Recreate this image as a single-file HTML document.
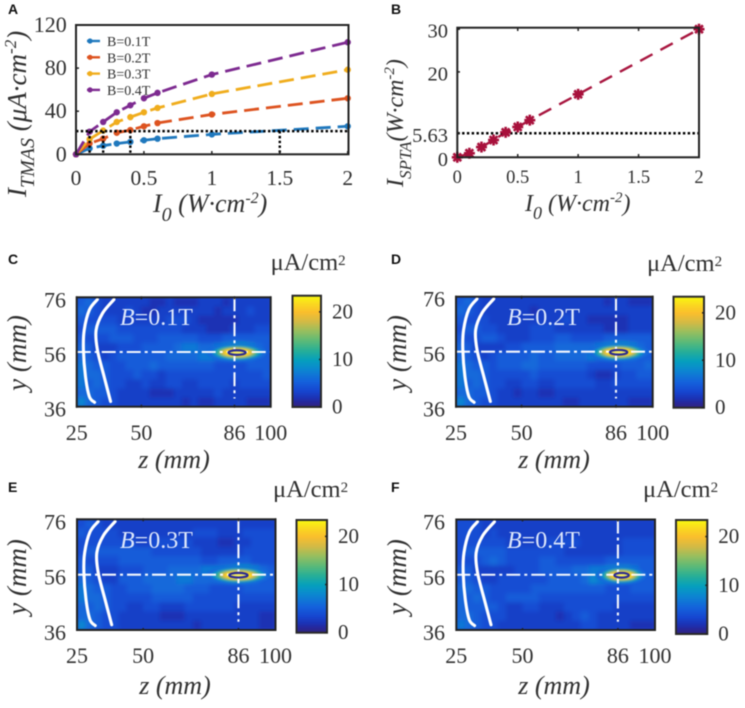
<!DOCTYPE html>
<html lang="en">
<head>
<meta charset="utf-8">
<title>TMAS current density figure</title>
<style>
html,body{margin:0;padding:0;background:#fff;width:745px;height:708px;overflow:hidden}
svg{display:block;filter:blur(0.5px)}
text{font-family:"Liberation Serif",serif;fill:#303030}
.it{font-style:italic}
.letter{font-family:"Liberation Sans",sans-serif;font-weight:700;font-size:14px;fill:#111}
</style>
</head>
<body>
<svg id="fig" xmlns="http://www.w3.org/2000/svg" width="745" height="708" viewBox="0 0 745 708">
<defs>
<filter id="soft" x="-5%" y="-5%" width="110%" height="110%"><feGaussianBlur stdDeviation="2.2"/></filter>
<filter id="softHot" x="-30%" y="-60%" width="160%" height="220%"><feGaussianBlur stdDeviation="1"/></filter>
</defs>

<text class="letter" x="8" y="14">A</text>
<text class="letter" x="391" y="14">B</text>
<text class="letter" x="8" y="264">C</text>
<text class="letter" x="391" y="264">D</text>
<text class="letter" x="8" y="492">E</text>
<text class="letter" x="391" y="492">F</text>

<text class="it" transform="translate(26,197) rotate(-90)" font-size="27">I<tspan dy="8" font-size="20">TMAS</tspan><tspan dy="-8"> (μA·cm</tspan><tspan dy="-10" font-size="17">-2</tspan><tspan dy="10">)</tspan></text>
<text class="it" x="153" y="212" font-size="26">I<tspan dy="9" font-size="20">0</tspan><tspan dy="-9"> (W·cm</tspan><tspan dy="-9" font-size="16">-2</tspan><tspan dy="9">)</tspan></text>
<text class="it" transform="translate(403,187) rotate(-90)" font-size="24">I<tspan dy="8" font-size="17">SPTA</tspan><tspan dy="-8">(W·cm</tspan><tspan dy="-9" font-size="15">-2</tspan><tspan dy="9">)</tspan></text>
<text class="it" x="525" y="211" font-size="24">I<tspan dy="8" font-size="18">0</tspan><tspan dy="-8"> (W·cm</tspan><tspan dy="-9" font-size="15">-2</tspan><tspan dy="9">)</tspan></text>
</svg>

<script>
// ---------- Panel A data ----------
const intensityValues = [0, 0.1, 0.2, 0.3, 0.4, 0.5, 0.6, 1, 2];
const seriesB01 = [0, 5.5, 8, 10, 11.5, 13, 14.5, 18.5, 26];
const seriesB02 = [0, 10, 14.5, 20, 22.5, 26, 29, 37, 52];
const seriesB03 = [0, 14, 22, 30, 34.5, 39, 43, 56, 78.5];
const seriesB04 = [0, 21, 30, 39, 45.5, 52, 57, 74, 104];
const seriesNames = ['B=0.1T', 'B=0.2T', 'B=0.3T', 'B=0.4T'];
const thresholdTmas = 21.5;
const thresholdIntensities = [0.1, 0.2, 0.4, 1.5];
const xTickLabels = ['0', '0.5', '1', '1.5', '2'];
const xTickValues = [0, 0.5, 1, 1.5, 2];
const yTickValuesA = [0, 40, 80, 120];

// ---------- Panel B data ----------
const sptaValues = [0, 0.95, 2.4, 4.05, 5.85, 7.1, 8.7, 14.75, 30];
const yTickValuesB = [0, 5.63, 20, 30];
const yTickLabelsB = ['0', '5.63', '20', '30'];
const thresholdSpta = 5.63;

// ---------- Heatmap data (μA/cm², coarse reading of each map) ----------
const heatC = [
[5,6,4,3,3,3,3,3,3,2,2,3,2,2,2,3,3,3,2,3,3,3,3,3],
[6,5,4,3,3,3,4,3,2,2,3,3,3,3,3,3,3,2,3,3,3,4,3,3],
[5,4,4,4,4,3,3,3,3,3,3,4,4,4,3,2,2,2,2,2,3,3,3,3],
[4,5,5,5,5,4,4,4,4,4,4,4,4,3,3,3,2,2,2,3,3,3,4,4],
[5,4,4,4,5,5,5,4,4,4,5,5,5,5,5,4,4,4,5,5,5,5,5,5],
[6,5,3,3,3,4,4,4,5,5,5,5,6,7,7,6,6,7,8,10,10,8,6,5],
[6,5,4,3,4,5,5,5,5,5,5,6,6,6,6,7,7,6,6,6,6,6,5,5],
[7,6,5,5,4,4,5,5,5,6,5,5,5,5,5,5,5,4,4,4,4,5,5,5],
[7,6,6,5,4,4,4,5,4,4,3,4,4,4,4,4,4,4,4,4,4,4,4,5],
[7,5,6,5,4,4,3,3,4,3,3,4,4,3,3,4,4,4,4,3,4,4,4,4],
[6,6,5,5,4,3,3,3,3,2,2,2,3,3,3,3,3,4,3,3,3,3,3,3],
[8,6,5,4,4,3,3,3,3,3,3,3,3,2,3,2,2,3,3,3,3,2,2,2]];
const heatD = [
[5,6,4,3,3,3,3,3,3,3,3,3,3,3,3,3,3,3,2,3,3,2,2,2],
[6,5,4,3,3,3,3,3,3,2,3,3,3,3,3,3,3,3,3,3,3,3,3,3],
[5,4,4,4,3,3,3,3,3,3,3,3,3,4,3,3,2,2,2,2,2,3,3,3],
[4,5,5,4,4,3,3,3,3,4,4,4,3,3,3,3,3,3,2,2,2,3,3,3],
[5,4,4,5,5,4,3,3,3,4,4,4,5,5,4,4,4,4,5,5,5,5,5,5],
[6,5,3,3,3,3,4,4,5,5,5,5,6,6,6,6,6,7,8,10,10,8,6,5],
[6,5,4,3,4,5,5,5,5,6,5,5,6,6,6,6,7,6,6,6,6,6,5,5],
[7,6,5,5,4,5,5,5,6,6,5,5,5,5,5,5,4,4,4,4,5,5,5,6],
[7,6,6,5,4,4,4,4,4,5,4,4,4,4,4,4,3,2,2,3,4,4,5,5],
[7,5,6,5,4,4,3,3,4,4,3,3,4,4,4,4,4,3,3,4,4,4,4,4],
[6,6,5,5,4,3,3,2,3,3,2,2,3,3,3,3,3,3,3,3,3,3,3,3],
[8,6,5,4,4,3,3,3,3,3,3,3,3,2,2,3,3,3,3,3,3,2,2,2]];
const heatE = [
[4,5,4,3,3,3,3,3,3,3,3,3,3,3,3,3,3,3,3,3,3,3,3,3],
[5,4,4,4,4,3,3,3,3,3,3,3,3,3,4,4,4,3,3,3,4,4,4,4],
[4,4,4,4,4,4,4,3,3,4,4,4,4,4,3,3,3,2,2,3,3,4,4,4],
[4,5,5,5,5,5,5,5,5,4,4,4,4,4,4,3,3,3,3,3,4,4,4,4],
[5,4,4,4,4,5,5,5,5,5,5,5,5,5,5,4,4,5,5,5,5,4,4,4],
[5,5,3,3,3,4,4,4,5,5,5,6,6,6,6,7,7,7,8,10,10,8,6,5],
[6,5,4,3,3,5,5,5,6,6,6,6,7,7,6,6,6,6,6,6,6,6,5,5],
[7,6,5,5,4,4,5,5,5,6,6,6,6,5,5,5,4,4,4,4,5,5,5,5],
[7,6,6,5,4,4,4,4,4,5,5,5,5,5,4,4,4,4,4,4,4,4,4,4],
[6,5,6,5,4,4,3,3,4,4,3,3,3,4,4,4,4,4,4,3,3,3,3,3],
[6,6,5,4,4,3,3,3,3,3,2,2,2,3,3,3,3,3,3,3,3,3,2,2],
[8,6,5,4,4,3,3,3,3,3,3,3,3,3,2,3,3,3,3,3,3,3,2,2]];
const heatF = [
[4,4,4,3,3,3,3,3,3,3,3,3,3,3,3,3,3,3,3,3,3,3,3,3],
[4,4,4,3,4,3,3,3,3,3,3,3,3,3,3,3,3,3,3,3,3,3,3,3],
[4,4,4,4,4,4,3,3,3,3,3,4,4,4,4,3,3,3,3,3,4,4,4,4],
[4,5,5,5,5,5,4,4,4,4,4,4,4,3,3,3,3,3,3,3,4,4,4,4],
[4,4,4,5,6,5,4,4,4,4,5,5,4,4,4,4,4,4,5,5,5,5,5,5],
[5,5,3,3,3,3,3,4,4,4,5,5,5,5,6,6,7,7,8,9,9,7,5,5],
[5,5,4,3,3,4,4,4,4,4,4,5,5,5,5,6,8,7,6,5,5,5,5,5],
[6,6,5,5,4,4,4,4,4,5,5,5,5,5,5,5,5,5,4,4,4,5,5,5],
[6,5,6,5,4,4,5,5,5,5,4,4,4,4,4,4,4,4,4,4,4,4,4,4],
[6,5,5,5,5,4,3,3,4,4,3,3,3,4,4,4,4,4,4,3,3,3,3,3],
[6,6,5,4,4,4,3,3,3,3,3,3,2,3,4,5,4,3,3,3,3,3,3,3],
[7,6,5,4,4,3,3,3,3,3,3,3,3,3,3,4,4,3,3,3,3,2,2,2]];
const heatGrids = [heatC, heatD, heatE, heatF];
const fieldLabels = ['=0.1T', '=0.2T', '=0.3T', '=0.4T'];
const focusZ = [87, 87, 86, 87.4];
const focusY = 55.8;
const focusScale = [1, 1, 1.05, 0.82];
const focusLevels = [6, 9, 13, 17, 20, 22.5];
const focusHalfZ = [11.5, 9.5, 8, 6.8, 5.6, 4.6];
const focusHalfY = [3.4, 2.7, 2.2, 1.8, 1.5, 1.2];
const zTickValues = [25, 50, 86, 100];
const yTickValuesHeat = [36, 56, 76];
const cbarTickValues = [0, 10, 20];
const skullInnerZ = [33, 29.9, 27.9, 27.6, 28.4, 29.9, 31.9];
const skullInnerY = [75.2, 71.4, 64, 56.8, 47, 39.7, 37.6];
const skullOuterZ = [39.4, 35, 32.5, 33, 35.6, 38.1];
const skullOuterY = [75.2, 70.2, 64, 56.8, 47, 37.9];

// ---------- Layout & style (not data) ----------
const NS = 'http://www.w3.org/2000/svg';
const fig = document.getElementById('fig');
const panelKeys = ['c', 'd', 'e', 'f'];
const layouts = [
 {l:76.7,r:270.7,t:297.3,b:406.7,cl:292.5,cr:321,ct:295.7,cb:407,unitX:270.6,unitY:270,yEnd:66,xBase:440,ttlX:26,ttlCY:353,xTtl:174,xTtlY:468,fx:120,fy:325},
 {l:456,r:652.7,t:296.7,b:406.7,cl:673.5,cr:704,ct:296.7,cb:407.7,unitX:647,unitY:271,yEnd:445,xBase:440,ttlX:406,ttlCY:353,xTtl:554,xTtlY:468,fx:507,fy:325},
 {l:77,r:275.5,t:519.3,b:630,cl:296.5,cr:327,ct:520,cb:632.7,unitX:273,unitY:497,yEnd:66,xBase:663,ttlX:26,ttlCY:577,xTtl:175,xTtlY:694,fx:120,fy:548},
 {l:456.3,r:655,t:519.5,b:630,cl:676,cr:707.3,ct:520,cb:634,unitX:643,unitY:497,yEnd:445,xBase:663,ttlX:406,ttlCY:577,xTtl:554,xTtlY:694,fx:507,fy:548}
];
const seriesColors = ['#1f78bd', '#dd5320', '#f0ad1d', '#7d2a90'];
const cmapV = [0, 1, 2, 3.5, 5.5, 8, 10, 12, 14, 16, 18, 20, 22, 23.5];
const cmapC = [[50,35,125],[40,38,150],[28,50,180],[22,70,208],[20,98,220],[12,135,208],[6,160,188],[40,175,150],[92,186,120],[150,190,95],[210,186,70],[250,190,45],[250,220,30],[248,250,15]];

function colorOf(v) {
  if (v <= cmapV[0]) return 'rgb(' + cmapC[0].join(',') + ')';
  for (let i = 1; i < cmapV.length; i++) {
    if (v <= cmapV[i]) {
      const f = (v - cmapV[i-1]) / (cmapV[i] - cmapV[i-1]);
      const c = cmapC[i-1].map((a, k) => Math.round(a + (cmapC[i][k] - a) * f));
      return 'rgb(' + c.join(',') + ')';
    }
  }
  return 'rgb(' + cmapC[cmapC.length-1].join(',') + ')';
}
function mk(tag, attrs, parent) {
  const el = document.createElementNS(NS, tag);
  for (const k in attrs) el.setAttribute(k, attrs[k]);
  (parent || fig).appendChild(el);
  return el;
}
function smoothPath(pts) {
  let d = 'M' + pts[0][0] + ' ' + pts[0][1];
  for (let i = 0; i < pts.length - 1; i++) {
    const p0 = pts[Math.max(i-1,0)], p1 = pts[i], p2 = pts[i+1], p3 = pts[Math.min(i+2,pts.length-1)];
    d += ' C' + (p1[0]+(p2[0]-p0[0])/6) + ' ' + (p1[1]+(p2[1]-p0[1])/6) + ' ' + (p2[0]-(p3[0]-p1[0])/6) + ' ' + (p2[1]-(p3[1]-p1[1])/6) + ' ' + p2[0] + ' ' + p2[1];
  }
  return d;
}

// ---------- Panel A ----------
const xA = v => 76 + v / 2 * 271.7;
const yA = v => 154.3 - v / 120 * 129.3;
const gA = mk('g', {});


const allSeries = [seriesB01, seriesB02, seriesB03, seriesB04];
allSeries.forEach((vals, s) => {
  const line = mk('polyline', {points: vals.map((v, i) => xA(intensityValues[i]) + ',' + yA(v)).join(' '), fill: 'none', stroke: seriesColors[s], 'stroke-width': 2.8, 'stroke-dasharray': '15 7'}, gA);
  
  
  vals.forEach((v, i) => {
    const dot = mk('circle', {cx: xA(intensityValues[i]), cy: yA(v), r: 3.2, fill: seriesColors[s]}, gA);
    
    
  });
});
const hDotA = mk('line', {x1: xA(0), x2: xA(2), y1: yA(thresholdTmas), y2: yA(thresholdTmas), stroke: '#000', 'stroke-width': 2.4, 'stroke-dasharray': '2.4 2.4'}, gA);


thresholdIntensities.forEach(v => {
  const vl = mk('line', {x1: xA(v), x2: xA(v), y1: yA(thresholdTmas), y2: yA(0), stroke: '#000', 'stroke-width': 2.4, 'stroke-dasharray': '2.4 2.4'}, gA);
  
  
});
const frameA = mk('rect', {x: 76, y: 25, width: 272.5, height: 129.3, fill: 'none', stroke: '#222', 'stroke-width': 2}, gA);


xTickValues.forEach((v, i) => {
  mk('line', {x1: xA(v), x2: xA(v), y1: 154, y2: 151, stroke: '#222', 'stroke-width': 1.5}, gA);
  const t = mk('text', {x: xA(v), y: 185, 'font-size': 21.5, 'text-anchor': 'middle'}, gA);
  t.textContent = xTickLabels[i];
  
  
});
yTickValuesA.forEach(v => {
  mk('line', {x1: 76, x2: 79, y1: yA(v), y2: yA(v), stroke: '#222', 'stroke-width': 1.5}, gA);
  const t = mk('text', {x: 66.7, y: yA(v) + 7, 'font-size': 22, 'text-anchor': 'end'}, gA);
  t.textContent = String(v);
  
  
});
seriesNames.forEach((name, i) => {
  const y = 41 + i * 16.3;
  const l = mk('line', {x1: 87, x2: 100, y1: y, y2: y, stroke: seriesColors[i], 'stroke-width': 2.4}, gA);
  
  
  const c = mk('circle', {cx: 90, cy: y, r: 2.6, fill: seriesColors[i]}, gA);
  
  
  const t = mk('text', {x: 107, y: y + 5, 'font-size': 14}, gA);
  t.textContent = name;
  
  
});

// ---------- Panel B ----------
const xB = v => 457.3 + v / 2 * 241.7;
const yB = v => 157.3 - v * 4.27;
const gB = mk('g', {});


const lineB = mk('polyline', {points: sptaValues.map((v, i) => xB(intensityValues[i]) + ',' + yB(v)).join(' '), fill: 'none', stroke: '#a8163f', 'stroke-width': 2.4, 'stroke-dasharray': '14 9'}, gB);


const hDotB = mk('line', {x1: xB(0), x2: xB(2), y1: yB(thresholdSpta), y2: yB(thresholdSpta), stroke: '#000', 'stroke-width': 2.4, 'stroke-dasharray': '2.4 2.4'}, gB);


sptaValues.forEach((v, i) => {
  const g = mk('g', {transform: 'translate(' + xB(intensityValues[i]) + ',' + yB(v) + ')', stroke: '#a8113c', 'stroke-width': 2.6}, gB);
  
  
  [0, 45, 90, 135].forEach(a => {
    mk('line', {x1: -5.5, x2: 5.5, y1: 0, y2: 0, transform: 'rotate(' + a + ')'}, g);
  });
  mk('circle', {r: 3, fill: '#a8113c', stroke: 'none'}, g);
});
const frameB = mk('rect', {x: 457.3, y: 27.7, width: 241.7, height: 129.6, fill: 'none', stroke: '#222', 'stroke-width': 2}, gB);


xTickValues.forEach((v, i) => {
  mk('line', {x1: xB(v), x2: xB(v), y1: 157, y2: 154, stroke: '#222', 'stroke-width': 1.5}, gB);
  mk('line', {x1: xB(v), x2: xB(v), y1: 28, y2: 31, stroke: '#222', 'stroke-width': 1.5}, gB);
  const t = mk('text', {x: xB(v), y: 183, 'font-size': 18.5, 'text-anchor': 'middle'}, gB);
  t.textContent = xTickLabels[i];
  
  
});
yTickValuesB.forEach((v, i) => {
  mk('line', {x1: 457, x2: 460, y1: yB(v), y2: yB(v), stroke: '#222', 'stroke-width': 1.5}, gB);
  const t = mk('text', {x: 448, y: yB(v) + 8.5, 'font-size': 20.5, 'text-anchor': 'end'}, gB);
  t.textContent = yTickLabelsB[i];
  
  
});

// ---------- Heatmap panels ----------
heatGrids.forEach((grid, p) => {
  const L = layouts[p];
  const xH = z => L.l + (z - 25) / 75 * (L.r - L.l);
  const yH = y => L.b - (y - 36) / 40 * (L.b - L.t);
  const g = mk('g', {});
  
  
  const clipId = 'clip' + p;
  const defs = mk('clipPath', {id: clipId}, g);
  mk('rect', {x: L.l, y: L.t, width: L.r - L.l, height: L.b - L.t}, defs);
  const clipG = mk('g', {'clip-path': 'url(#' + clipId + ')'}, g);
  mk('rect', {x: L.l, y: L.t, width: L.r - L.l, height: L.b - L.t, fill: colorOf(3.5)}, clipG);
  const cellG = mk('g', {filter: 'url(#soft)'}, clipG);
  const rows = grid.length, cols = grid[0].length;
  const cw = (L.r - L.l) / cols, ch = (L.b - L.t) / rows;
  grid.forEach((row, r) => row.forEach((v, c) => {
    const cell = mk('rect', {x: L.l + c * cw, y: L.t + r * ch, width: cw + 0.5, height: ch + 0.5, fill: colorOf(v)}, cellG);
    
    
  }));
  const hotG = mk('g', {filter: 'url(#softHot)'}, clipG);
  
  
  focusLevels.forEach((lv, i) => {
    mk('ellipse', {cx: xH(focusZ[p]), cy: yH(focusY), rx: focusHalfZ[i] * focusScale[p] * (L.r - L.l) / 75, ry: focusHalfY[i] * (L.b - L.t) / 40, fill: colorOf(lv)}, hotG);
  });
  // crosshair
  const h = mk('line', {x1: L.l, x2: L.r, y1: yH(56), y2: yH(56), stroke: '#fff', 'stroke-width': 2.1, 'stroke-dasharray': '14 4 3 4', opacity: .95}, clipG);
  
  
  const v = mk('line', {x1: xH(86), x2: xH(86), y1: L.t, y2: yH(39), stroke: '#fff', 'stroke-width': 2.1, 'stroke-dasharray': '14 4 3 4', opacity: .95}, clipG);
  
  
  const ring = mk('ellipse', {cx: xH(focusZ[p]), cy: yH(focusY), rx: 3.3 * focusScale[p] * (L.r - L.l) / 75, ry: 0.85 * (L.b - L.t) / 40, fill: '#f4ec60', stroke: '#2a2a90', 'stroke-width': 2.2}, clipG);
  
  
  // skull outlines
  const c1 = mk('path', {d: smoothPath(skullInnerZ.map((z, i) => [xH(z), yH(skullInnerY[i])])), fill: 'none', stroke: '#fff', 'stroke-width': 3.1, 'stroke-linecap': 'round'}, clipG);
  
  
  const c2 = mk('path', {d: smoothPath(skullOuterZ.map((z, i) => [xH(z), yH(skullOuterY[i])])), fill: 'none', stroke: '#fff', 'stroke-width': 3.1, 'stroke-linecap': 'round'}, clipG);
  
  
  // frame
  const fr = mk('rect', {x: L.l, y: L.t, width: L.r - L.l, height: L.b - L.t, fill: 'none', stroke: '#222', 'stroke-width': 2}, g);
  
  
  // field label
  const fl = mk('text', {x: L.fx, y: L.fy, 'font-size': 24, style: 'fill:#dde7fb'}, g);
  
  
  const flB = mk('tspan', {'font-style': 'italic'}, fl);
  flB.textContent = 'B';
  const flV = mk('tspan', {}, fl);
  flV.textContent = fieldLabels[p];
  // ticks
  zTickValues.forEach(z => {
    mk('line', {x1: xH(z), x2: xH(z), y1: L.t - 1, y2: L.t + 2, stroke: '#222', 'stroke-width': 1.5}, g);
    mk('line', {x1: xH(z), x2: xH(z), y1: L.b + 1, y2: L.b - 2, stroke: '#222', 'stroke-width': 1.5}, g);
    const t = mk('text', {x: xH(z), y: L.xBase, 'font-size': 22, 'text-anchor': 'middle'}, g);
    t.textContent = String(z);
    
    
  });
  yTickValuesHeat.forEach(y => {
    const t = mk('text', {x: L.yEnd, y: yH(y) + 10, 'font-size': 22, 'text-anchor': 'end'}, g);
    t.textContent = String(y);
    
    
  });
  const yt = mk('text', {transform: 'translate(' + L.ttlX + ',' + L.ttlCY + ') rotate(-90)', 'font-size': 27, 'font-style': 'italic', 'text-anchor': 'middle'}, g);
  yt.textContent = 'y (mm)';
  
  
  const xt = mk('text', {x: L.xTtl, y: L.xTtlY, 'font-size': 26, 'font-style': 'italic', 'text-anchor': 'middle'}, g);
  xt.textContent = 'z (mm)';
  
  
  // colorbar
  const cbar = mk('g', {}, g);
  
  
  const maxV = 23.4, steps = 70;
  for (let i = 0; i < steps; i++) {
    const hh = (L.cb - L.ct) / steps;
    mk('rect', {x: L.cl, y: L.cb - (i + 1) * hh, width: L.cr - L.cl, height: hh + 0.5, fill: colorOf((i + 0.5) / steps * maxV)}, cbar);
  }
  mk('rect', {x: L.cl, y: L.ct, width: L.cr - L.cl, height: L.cb - L.ct, fill: 'none', stroke: '#2a2a2a', 'stroke-width': 2}, cbar);
  cbarTickValues.forEach(v => {
    const y = L.cb - v / maxV * (L.cb - L.ct);
    mk('line', {x1: L.cr - 2, x2: L.cr, y1: y, y2: y, stroke: '#222', 'stroke-width': 1.5}, cbar);
    const t = mk('text', {x: L.cr + 11, y: y + 6.5, 'font-size': 21}, cbar);
    t.textContent = String(v);
    
    
  });
  const u = mk('text', {x: L.unitX, y: L.unitY, 'font-size': 24.5}, g);
  
  
  const u1 = mk('tspan', {}, u);
  u1.textContent = 'μA/cm';
  const u2 = mk('tspan', {'font-size': 15, dy: -5}, u);
  u2.textContent = '2';
});
</script>
</body>
</html>
